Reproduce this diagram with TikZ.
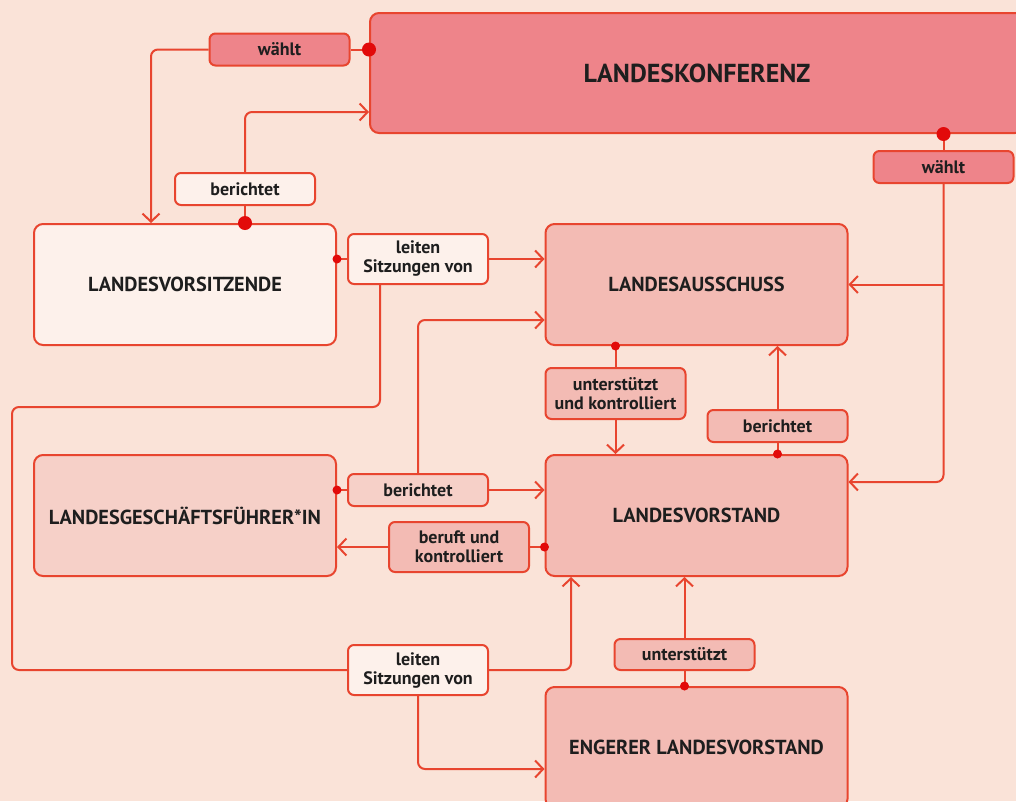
\documentclass[tikz,border=0pt]{standalone}
\usepackage{fontspec}
\setmainfont{PT Sans}
\usetikzlibrary{arrows.meta}

\definecolor{bg}{HTML}{FAE3D8}
\definecolor{linered}{HTML}{E8452F}
\definecolor{dotred}{HTML}{E20A0A}
\definecolor{lkfill}{HTML}{EE848A}
\definecolor{midfill}{HTML}{F3BBB4}
\definecolor{gffill}{HTML}{F6D0C8}
\definecolor{lightfill}{HTML}{FDF1EB}
\definecolor{ink}{HTML}{1E1E1E}

\tikzset{
  box/.style={draw=linered, line width=2pt, rounded corners=9pt, minimum width=302pt,
    minimum height=121pt, inner sep=0pt, text=ink, font=\fontsize{20.3}{22}\selectfont\bfseries},
  lbl/.style={draw=linered, line width=2pt, rounded corners=6pt, minimum width=140pt,
    minimum height=32pt, inner sep=0pt, align=center, text=ink,
    font=\fontsize{18}{19}\selectfont\bfseries},
  conn/.style={draw=linered, line width=2pt, rounded corners=7pt},
  arr/.style={conn, -{Straight Barb[length=8pt,width=17pt]}},
  bigdot/.style={circle, fill=dotred, inner sep=0pt, minimum size=14pt},
  dot/.style={circle, fill=dotred, inner sep=0pt, minimum size=9pt}
}

\begin{document}
\begin{tikzpicture}[x=1pt, y=-1pt]
  \fill[bg] (0,0) rectangle (1016,801);
  \useasboundingbox (0,0) rectangle (1016,801);

  % gremien
  \node[box, fill=lkfill, minimum width=654pt, minimum height=120pt,
    font=\fontsize{26}{28}\selectfont\bfseries] (lk) at (697,73) {LANDESKONFERENZ};
  \node[box, fill=lightfill] (lvs) at (185,284.5) {LANDESVORSITZENDE};
  \node[box, fill=midfill] (la) at (696.5,284.5) {LANDESAUSSCHUSS};
  \node[box, fill=gffill] (lgf) at (185,515.5) {LANDESGESCHÄFTSFÜHRER*IN};
  \node[box, fill=midfill] (lvst) at (696.5,515.5) {LANDESVORSTAND};
  \node[box, fill=midfill] (elv) at (696.5,747.5) {ENGERER LANDESVORSTAND};

  % beziehungen
  \node[lbl, fill=lkfill] (waehlt1) at (279.5,49.5) {wählt};
  \node[lbl, fill=lightfill] (ber1) at (245,189) {berichtet};
  \node[lbl, fill=lkfill] (waehlt2) at (943.5,167) {wählt};
  \node[lbl, fill=lightfill, minimum height=50pt] (leiten1) at (418,259) {leiten\\Sitzungen von};
  \node[lbl, fill=midfill, minimum height=51pt] (uuk) at (615.5,393.5) {unterstützt\\und kontrolliert};
  \node[lbl, fill=midfill] (ber2) at (777.5,426) {berichtet};
  \node[lbl, fill=gffill] (ber3) at (418,490) {berichtet};
  \node[lbl, fill=midfill, minimum height=50pt] (buk) at (459,547) {beruft und\\kontrolliert};
  \node[lbl, fill=lightfill, minimum height=50pt] (leiten2) at (418,670) {leiten\\Sitzungen von};
  \node[lbl, fill=midfill, minimum height=31pt] (unt) at (684.5,654.5) {unterstützt};

  \coordinate (loopleft) at (12,407);

  % landeskonferenz waehlt landesvorsitzende
  \draw[conn] (lk.west |- waehlt1) -- (waehlt1.east);
  \draw[arr] (waehlt1.west) -| ([xshift=118pt]lvs.north west);
  % landesvorsitzende berichten
  \draw[conn] (ber1.south |- lvs.north) -- (ber1.south);
  \draw[arr] (ber1.north) |- ([yshift=-39pt]lk.west);
  % landeskonferenz waehlt ausschuss und vorstand
  \draw[conn] (waehlt2 |- lk.south) -- (waehlt2.north);
  \draw[arr] (waehlt2.south) |- ([yshift=33.5pt]lvst.east);
  \draw[arr] (waehlt2.south |- la.east) -- (la.east);
  % leiten sitzungen
  \draw[conn] (lvs.east |- leiten1) -- (leiten1.west);
  \draw[arr] (leiten1.east) -- (la.west |- leiten1);
  \draw[conn] ([xshift=-38pt]leiten1.south) |- (loopleft) |- (leiten2.west);
  \draw[arr] (leiten2.east) -| ([xshift=-125.5pt]lvst.south);
  \draw[arr] (leiten2.south) |- ([yshift=-21.5pt]elv.west);
  % ausschuss und vorstand
  \draw[conn] (uuk.north |- la.south) -- (uuk.north);
  \draw[arr] (uuk.south) -- (uuk.south |- lvst.north);
  \draw[conn] (ber2.south |- lvst.north) -- (ber2.south);
  \draw[arr] (ber2.north) -- (ber2.north |- la.south);
  % geschaeftsfuehrung
  \draw[conn] (lgf.east |- ber3) -- (ber3.west);
  \draw[arr] (ber3.east) -- (lvst.west |- ber3);
  \draw[arr] (ber3.north) |- ([yshift=-35.5pt]la.west);
  \draw[conn] (lvst.west |- buk) -- (buk.east);
  \draw[arr] (buk.west) -- (lgf.east |- buk);
  % engerer vorstand
  \draw[conn] (unt |- elv.north) -- (unt.south);
  \draw[arr] (unt.north) -- (unt.north |- lvst.south);

  % punkte
  \node[bigdot] (p1) at (lk.west |- waehlt1) {};
  \node[bigdot] (p2) at (ber1.south |- lvs.north) {};
  \node[bigdot] (p3) at (waehlt2 |- lk.south) {};
  \node[dot] (p4) at (lvs.east |- leiten1) {};
  \node[dot] (p5) at (uuk.north |- la.south) {};
  \node[dot] (p6) at (ber2.south |- lvst.north) {};
  \node[dot] (p7) at (lgf.east |- ber3) {};
  \node[dot] (p8) at (lvst.west |- buk) {};
  \node[dot] (p9) at (unt |- elv.north) {};
\end{tikzpicture}
\end{document}
